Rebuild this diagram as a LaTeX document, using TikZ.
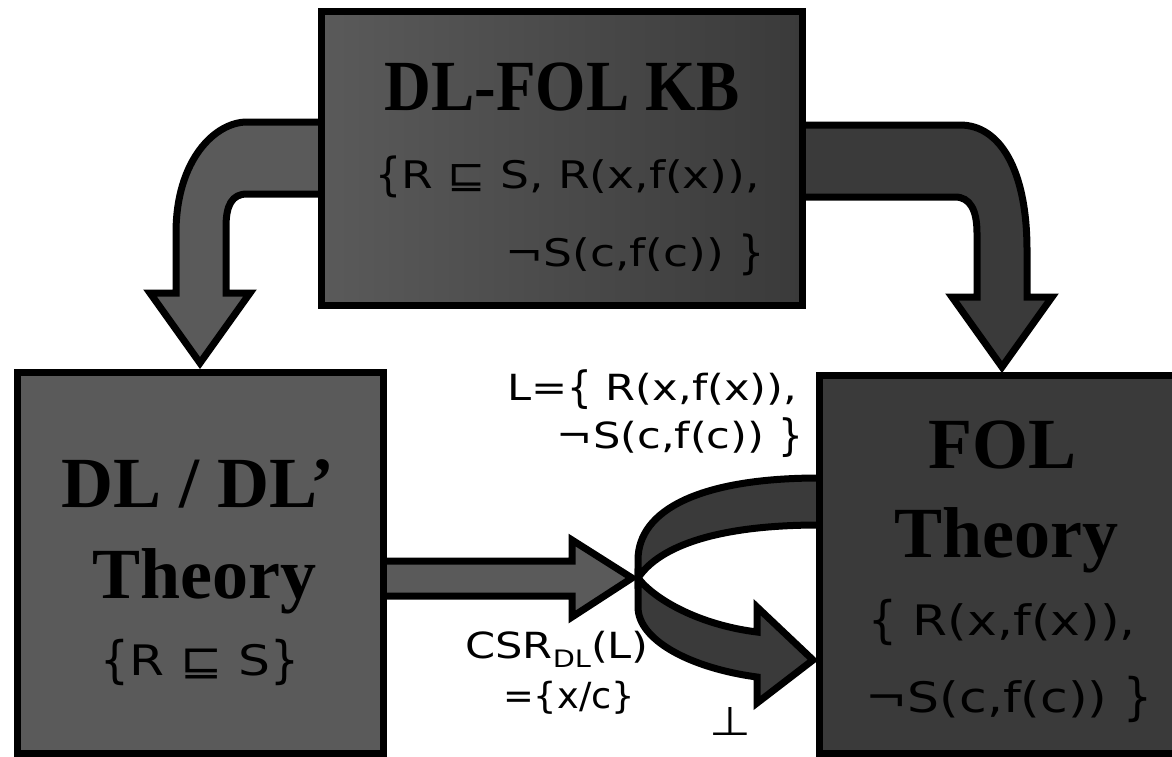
\documentclass[tikz,border=0pt]{standalone}
\usepackage{fontspec}
\setmainfont{Liberation Serif}
\newfontfamily\hand{DejaVu Sans}[FakeStretch=1.2]
% tall braces, as the set notation prints them
\newcommand\obr{\raisebox{-0.07em}{\scalebox{0.9}[1.2]{\{}}}
\newcommand\cbr{\raisebox{-0.07em}{\scalebox{0.9}[1.2]{\}}}}

\definecolor{boxlight}{RGB}{90,90,90}
\definecolor{boxdark}{RGB}{58,58,58}

\tikzset{
  blk/.style={draw=black, line width=7pt},
  panel/.style={blk, rectangle, inner sep=0pt, outer sep=0pt},
  title/.style={font=\fontsize{72}{80}\selectfont\bfseries, inner sep=0pt, anchor=base},
  formula/.style={font=\hand\fontsize{38}{42}\selectfont, inner sep=0pt},
  bigformula/.style={font=\hand\fontsize{42}{46}\selectfont, inner sep=0pt},
  smallformula/.style={font=\hand\fontsize{36}{40}\selectfont, inner sep=0pt},
}

\begin{document}
\begin{tikzpicture}[x=1pt,y=-1pt]
\useasboundingbox (0,0) rectangle (1172,756);
\fill[white] (0,0) rectangle (1172,756);
\clip (0,0) rectangle (1172,756);

% boxes (placed first so arrows can refer to them)
\path (561.5,158) node[panel, minimum width=481pt, minimum height=294pt] (kb) {};
\path (200,562.5) node[panel, minimum width=366pt, minimum height=381pt] (dl) {};
\path (1009.5,564) node[panel, minimum width=381pt, minimum height=378pt] (fol) {};

% block arrow: KB -> DL theory
\draw[blk, fill=boxlight]
  ([xshift=10pt]kb.west |- 0,122) -- (247,122)
  .. controls (215,122) and (176,160) .. (176,233) -- (176,293) -- (150,293)
  -- (200,363) coordinate (dltip) -- (250,293) -- (226,293) -- (226,227)
  .. controls (226,205) and (232,194) .. (247,194) -- ([xshift=10pt]kb.west |- 0,194) -- cycle;

% block arrow: KB -> FOL theory
\draw[blk, fill=boxdark]
  ([xshift=-10pt]kb.east |- 0,125) -- (960,125)
  .. controls (1000,125) and (1027,170) .. (1027,250) -- (1027,297) -- (1052,297)
  -- (1002,367) coordinate (foltip) -- (952,297) -- (977,297) -- (977,233)
  .. controls (977,210) and (970,197) .. (955,197) -- ([xshift=-10pt]kb.east |- 0,197) -- cycle;

% block arrow: DL theory -> loop
\draw[blk, fill=boxlight]
  ([xshift=-5pt]dl.east |- 0,561) -- (572,561) -- (572,540) -- (632,578) coordinate (cross)
  -- (572,617) -- (572,596) -- ([xshift=-5pt]dl.east |- 0,596) -- cycle;

% ribbon loop leaving FOL theory (upper band)
\draw[blk, fill=boxdark]
  ([xshift=10pt]fol.west |- 0,478) -- (819,478)
  .. controls (700,478) and (638,510) .. (638,560) -- (638,578)
  .. controls (660,545) and (720,525) .. (819,525) -- ([xshift=10pt]fol.west |- 0,525) -- cycle;

% ribbon loop returning into FOL theory (lower band with head)
\draw[blk, fill=boxdark]
  (638,578) .. controls (655,600) and (700,625) .. (757,632) -- (757,607)
  -- (813,660) coordinate (looptip) -- (757,703) -- (757,677)
  .. controls (690,668) and (638,640) .. (638,607) -- cycle;

% boxes drawn over the arrow ends
\fill[left color=boxlight, right color=boxdark] (kb.north west) rectangle (kb.south east);
\draw[blk] (kb.north west) rectangle (kb.south east);
\fill[boxlight] (dl.north west) rectangle (dl.south east);
\draw[blk] (dl.north west) rectangle (dl.south east);
\fill[boxdark] (fol.north west) rectangle (fol.south east);
\draw[blk] (fol.north west) rectangle (fol.south east);

% top box text
\node[title] (kbtitle) at (562,110) {\scalebox{0.9}[1]{DL-FOL KB}};
\node[formula, anchor=base west] (kbline1) at (375,188) {\obr R ⊑ S, R(x,f(x)),};
\node[formula, anchor=base east] (kbline2) at (765,266) {¬S(c,f(c)) \cbr};

% left box text
\node[title] (dltitle) at (198,507) {DL / DL’};
\node[title] (dltheory) at (204,598) {Theory};
\node[bigformula, anchor=base] (dlaxiom) at (200,675) {\obr R ⊑ S\cbr};

% right box text
\node[bigformula, anchor=base] (folline1) at (1002,635) {\obr\ R(x,f(x)),};
\node[bigformula, anchor=base] (folline2) at (1009,712) {¬S(c,f(c)) \cbr};
\node[title] (foltitle) at (1002,468) {FOL};
\node[title] (foltheory) at (1006,557) {Theory};

% loop labels
\node[smallformula, anchor=base west] (lset1) at (507,400) {L=\obr\ R(x,f(x)),};
\node[smallformula, anchor=base east] (lset2) at (803,448) {¬S(c,f(c)) \cbr};
\node[smallformula, anchor=base west] (csr) at (465,658) {CSR\raisebox{-0.25em}{\fontsize{24}{24}\selectfont DL}(L)};
\node[smallformula, anchor=base west] (subst) at (503,708) {\scalebox{0.85}[1]{=\{x/c\}}};
\node[font=\hand\fontsize{40}{40}\selectfont, inner sep=0pt, anchor=base] (bottom) at (730,735) {⊥};
\end{tikzpicture}
\end{document}
